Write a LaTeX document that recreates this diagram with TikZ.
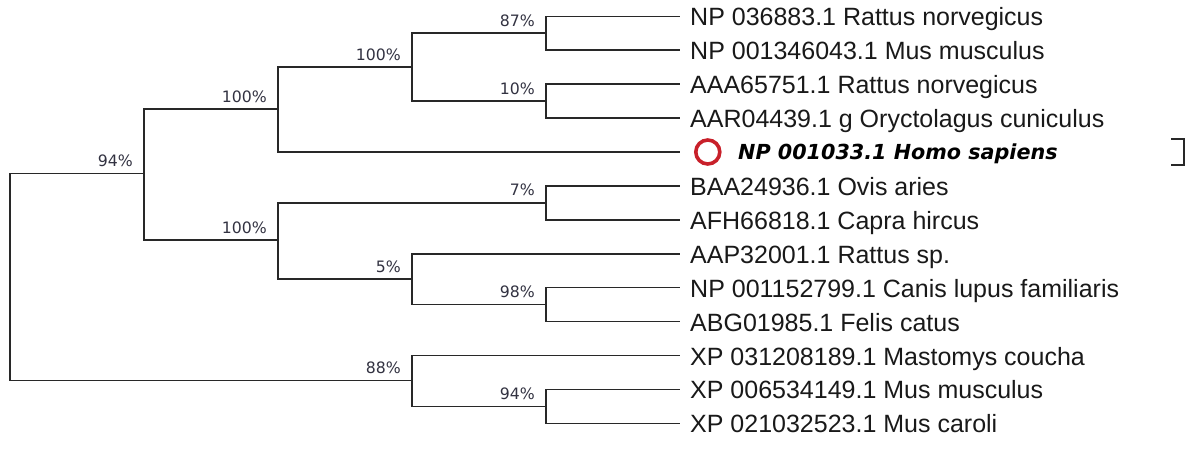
\documentclass[tikz,border=0pt]{standalone}
\usepackage{fontspec}
\usepackage{tikz}
\usetikzlibrary{positioning}
\newfontfamily\leaffont{Liberation Sans}
\newfontfamily\bootfont{DejaVu Sans}
\definecolor{markred}{RGB}{200,32,42}
\definecolor{branchgray}{RGB}{40,40,40}
\definecolor{bootgray}{RGB}{50,50,65}
\tikzset{
  branch/.style={draw=branchgray, line width=1.5pt},
  leaf/.style={anchor=west, inner xsep=10pt, inner ysep=0pt, text height=19pt, text depth=0pt,
    font=\leaffont\fontsize{25}{30}\selectfont, text=black!90},
  query/.style={leaf, inner xsep=58pt, text height=15.5pt, text=black,
    font=\bootfont\bfseries\itshape\fontsize{20.7}{24}\selectfont},
  boot/.style={anchor=base east, inner sep=0pt, font=\bootfont\fontsize{15.7}{18}\selectfont, text=bootgray},
  ring/.style={circle, draw=markred, line width=3.6pt, minimum size=24pt, inner sep=0pt},
}
\begin{document}
\begin{tikzpicture}[x=1pt, y=-1pt]
\useasboundingbox (0,0) rectangle (1192,450);

% leaves
\node[leaf] (l1) at (680,16.3) {NP 036883.1 Rattus norvegicus};
\node[leaf] (l2) at (680,50.2) {NP 001346043.1 Mus musculus};
\node[leaf] (l3) at (680,84.1) {AAA65751.1 Rattus norvegicus};
\node[leaf] (l4) at (680,118.1) {AAR04439.1 g Oryctolagus cuniculus};
\node[query] (l5) at (680,152.0) {NP 001033.1 Homo sapiens};
\node[ring, right=14pt of l5.west] (hit) {};
\node[leaf] (l6) at (680,185.9) {BAA24936.1 Ovis aries};
\node[leaf] (l7) at (680,219.8) {AFH66818.1 Capra hircus};
\node[leaf] (l8) at (680,253.8) {AAP32001.1 Rattus sp.};
\node[leaf] (l9) at (680,287.7) {NP 001152799.1 Canis lupus familiaris};
\node[leaf] (l10) at (680,321.6) {ABG01985.1 Felis catus};
\node[leaf] (l11) at (680,355.5) {XP 031208189.1 Mastomys coucha};
\node[leaf] (l12) at (680,389.4) {XP 006534149.1 Mus musculus};
\node[leaf] (l13) at (680,423.3) {XP 021032523.1 Mus caroli};

% internal nodes
\coordinate (root) at (10,277);
\coordinate (nA) at (546,33.2);
\coordinate (nB) at (546,101.1);
\coordinate (nC) at (412,67.2);
\coordinate (nD) at (278,109);
\coordinate (nE) at (546,202.8);
\coordinate (nF) at (546,304.6);
\coordinate (nG) at (412,279.2);
\coordinate (nH) at (278,240);
\coordinate (nI) at (144,173.5);
\coordinate (nJ) at (546,406.3);
\coordinate (nK) at (412,380.5);

% branches
\draw[branch] (nA) |- (l1.west);
\draw[branch] (nA) |- (l2.west);
\draw[branch] (nB) |- (l3.west);
\draw[branch] (nB) |- (l4.west);
\draw[branch] (nC) |- (nA);
\draw[branch] (nC) |- (nB);
\draw[branch] (nD) |- (nC);
\draw[branch] (nD) |- (l5.west);
\draw[branch] (nE) |- (l6.west);
\draw[branch] (nE) |- (l7.west);
\draw[branch] (nF) |- (l9.west);
\draw[branch] (nF) |- (l10.west);
\draw[branch] (nG) |- (l8.west);
\draw[branch] (nG) |- (nF);
\draw[branch] (nH) |- (nE);
\draw[branch] (nH) |- (nG);
\draw[branch] (nI) |- (nD);
\draw[branch] (nI) |- (nH);
\draw[branch] (nJ) |- (l12.west);
\draw[branch] (nJ) |- (l13.west);
\draw[branch] (nK) |- (l11.west);
\draw[branch] (nK) |- (nJ);
\draw[branch] (root) |- (nI);
\draw[branch] (root) |- (nK);

% bootstrap values
\node[boot] (bA) at ([xshift=-11pt,yshift=7pt]nA) {87\%};
\node[boot] (bB) at ([xshift=-11pt,yshift=7pt]nB) {10\%};
\node[boot] (bC) at ([xshift=-11pt,yshift=7pt]nC) {100\%};
\node[boot] (bD) at ([xshift=-11pt,yshift=7pt]nD) {100\%};
\node[boot] (bE) at ([xshift=-11pt,yshift=7pt]nE) {7\%};
\node[boot] (bF) at ([xshift=-11pt,yshift=7pt]nF) {98\%};
\node[boot] (bG) at ([xshift=-11pt,yshift=7pt]nG) {5\%};
\node[boot] (bH) at ([xshift=-11pt,yshift=7pt]nH) {100\%};
\node[boot] (bI) at ([xshift=-11pt,yshift=7pt]nI) {94\%};
\node[boot] (bJ) at ([xshift=-11pt,yshift=7pt]nJ) {94\%};
\node[boot] (bK) at ([xshift=-11pt,yshift=7pt]nK) {88\%};

% bracket
\draw[branch] (1171,139) -| (1184,165) -- (1171,165);
\end{tikzpicture}
\end{document}
